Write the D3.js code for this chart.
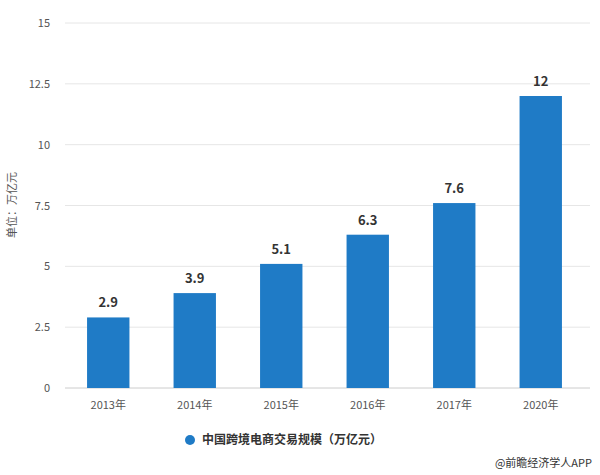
<!DOCTYPE html>
<html><head><meta charset="utf-8">
<script src="https://cdn.jsdelivr.net/npm/d3@7"></script>
<style>body{margin:0;background:#fff}text{font-family:"Noto Sans CJK SC","Noto Sans",sans-serif}</style>
</head><body><svg id="c" width="600" height="475"></svg>
<script>
const categories=["2013年","2014年","2015年","2016年","2017年","2020年"];
const values=[2.9,3.9,5.1,6.3,7.6,12];
const yTicks=[0,2.5,5,7.5,10,12.5,15];
const yTickLabels=["0","2.5","5","7.5","10","12.5","15"];
const seriesName="中国跨境电商交易规模（万亿元）";
const svg=d3.select("#c");
const x=d3.scaleBand().domain(categories).range([65,584]).paddingInner(0.51).paddingOuter(0.255);
const y=d3.scaleLinear().domain([0,15]).range([388,23]);
const g=svg.append("g");
yTicks.forEach((t,i)=>{
 g.append("line").attr("x1",65).attr("x2",590).attr("y1",y(t)).attr("y2",y(t)).attr("stroke",i==0?"#ccc":"#e6e6e6");
 g.append("text").attr("x",50).attr("y",y(t)+4).attr("text-anchor","end").attr("font-size",11).attr("fill","#555").text(yTickLabels[i]);
});
categories.forEach(c=>{
 g.append("text").attr("x",x(c)+x.bandwidth()/2).attr("y",409).attr("text-anchor","middle").attr("font-size",11).attr("fill","#555").text(c);
});
g.selectAll("rect").data(values).join("rect").attr("x",(d,i)=>x(categories[i])).attr("width",x.bandwidth())
 .attr("y",d=>y(d)).attr("height",d=>388-y(d)).attr("fill","#1f7bc6");
g.selectAll(".v").data(values).join("text").attr("x",(d,i)=>x(categories[i])+x.bandwidth()/2).attr("y",d=>y(d)-10)
 .attr("text-anchor","middle").attr("font-size",13).attr("font-weight","bold").attr("fill","#333").text(d=>d);
svg.append("text").attr("transform","translate(16,205) rotate(-90)").attr("text-anchor","middle").attr("font-size",11).attr("fill","#555").text("单位：万亿元");
svg.append("circle").attr("cx",190).attr("cy",440).attr("r",5).attr("fill","#1f7bc6");
svg.append("text").attr("x",202).attr("y",444).attr("font-size",12).attr("font-weight","bold").attr("fill","#333").text(seriesName);
svg.append("text").attr("x",592).attr("y",467).attr("text-anchor","end").attr("font-size",11).attr("fill","#333").text("@前瞻经济学人APP");
</script></body></html>
